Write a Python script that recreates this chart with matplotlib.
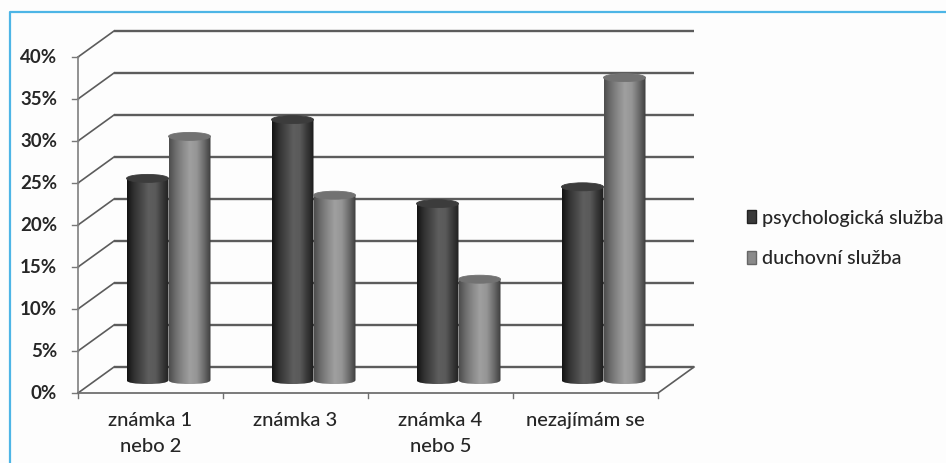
import numpy as np
import matplotlib
matplotlib.use("Agg")
import matplotlib.pyplot as plt
from matplotlib.patches import Rectangle, PathPatch, Ellipse
from matplotlib.path import Path
from matplotlib.colors import LinearSegmentedColormap

categories = ["známka 1\nnebo 2", "známka 3", "známka 4\nnebo 5", "nezajímám se"]
series_names = ["psychologická služba", "duchovní služba"]
psych = [24, 31, 21, 23]
duch = [29, 22, 12, 36]
yticks = [0, 5, 10, 15, 20, 25, 30, 35, 40]

W, H = 946, 463
plt.rcParams['font.family'] = ['Lato', 'DejaVu Sans']
fig = plt.figure(figsize=(W/100, H/100), dpi=100, facecolor='#fdfdfd')

# front plane of the 3d box
ax = fig.add_axes([78/W, 1-393/H, 580/W, 336/H])
ax.set_xlim(0, 4)
ax.set_ylim(0, 40)
ax.axis('off')

# depth of the box in data units
DX = 36/145
DY = 26/(336/40)
BW = 21/145        # half width of a cylinder
EH = 4/(336/40)    # half height of the cap
GRID = '#5c5c5c'
TXT = '#262626'

cm_dark = LinearSegmentedColormap.from_list('d', ['#141414', '#333333', '#474747', '#5e5e5e', '#5a5a5a', '#3a3a3a', '#1c1c1c'])
cm_light = LinearSegmentedColormap.from_list('l', ['#4e4e4e', '#707070', '#8a8a8a', '#a0a0a0', '#959595', '#6e6e6e', '#3e3e3e'])
ramp = np.linspace(0, 1, 64).reshape(1, -1)

# back wall gridlines with the diagonals on the left wall
for t in yticks:
    ax.plot([DX, 4+DX], [t+DY, t+DY], color=GRID, lw=1.7, clip_on=False, zorder=1, solid_capstyle='butt')
    ax.plot([0, DX], [t, t+DY], color=GRID, lw=1.2, clip_on=False, zorder=1)
    ax.plot([-6/145, 0], [t, t], color='#777777', lw=1.0, clip_on=False, zorder=1)
    ax.text(-21/145, t-0.1, str(t)+'%', ha='right', va='center', fontsize=13.5, color=TXT, fontweight='bold')

# floor and vertical axis
ax.plot([0, 0], [0, 40], color='#808080', lw=1.2, clip_on=False, zorder=1)
ax.plot([0, 4], [0, 0], color='#707070', lw=1.3, clip_on=False, zorder=1)
ax.plot([4, 4+DX], [0, DY], color=GRID, lw=1.2, clip_on=False, zorder=1)
for i in range(5):
    ax.plot([i, i], [0, -5/8.4], color='#707070', lw=1.0, clip_on=False, zorder=1)

def cylinder(xc, val, cmap, capcolor, z):
    # body with rounded bottom, shifted to the middle of the box depth
    b = DY/2
    t = val + DY/2
    l, r = xc-BW, xc+BW
    k = 0.55*BW
    verts = [(l, t), (l, b), (l, b-EH*0.75), (xc-k, b-EH), (xc, b-EH), (xc+k, b-EH), (r, b-EH*0.75), (r, b), (r, t), (l, t)]
    codes = [Path.MOVETO, Path.LINETO, Path.CURVE4, Path.CURVE4, Path.CURVE4, Path.CURVE4, Path.CURVE4, Path.CURVE4, Path.LINETO, Path.CLOSEPOLY]
    body = PathPatch(Path(verts, codes), fc='none', ec='none', zorder=z)
    ax.add_patch(body)
    im = ax.imshow(ramp, cmap=cmap, vmin=0, vmax=1, extent=[l, r, b-EH, t], aspect='auto', zorder=z)
    im.set_clip_path(body)
    ax.add_patch(Ellipse((xc, t), 2*BW, 2*EH, fc=capcolor, ec=capcolor, lw=0.6, zorder=z+0.1, clip_on=False))

for i in range(len(categories)):
    xc = i + 0.5 + DX/2
    cylinder(xc-BW, psych[i], cm_dark, '#3c3c3c', 3)
    cylinder(xc+BW, duch[i], cm_light, '#727272', 4)
    ax.text(i+0.5, -2.3, categories[i], ha='center', va='top', fontsize=14.5, color=TXT, linespacing=1.65, fontweight='medium')

ax.set_xlim(0, 4)
ax.set_ylim(0, 40)

# legend squares are drawn by the legend itself
h1 = Rectangle((0, 0), 1, 1, fc='#3a3a3a', ec='#222222')
h2 = Rectangle((0, 0), 1, 1, fc='#8a8a8a', ec='#666666')
fig.legend([h1, h2], series_names, loc='center left', bbox_to_anchor=(747/W, 1-238.5/H), frameon=False,
           labelcolor=TXT, handlelength=0.45, handleheight=0.6, handletextpad=0.3, labelspacing=1.2,
           borderpad=0, borderaxespad=0, prop={'size': 14.2, 'weight': 'medium'})

# thin blue frame round the figure
fig.add_artist(plt.Line2D([9.5/W, 9.5/W, 1], [0, 1-11.5/H, 1-11.5/H], color='#4db5e6', lw=1.6, transform=fig.transFigure))

fig.savefig("out.png", dpi=100, facecolor=fig.get_facecolor())
